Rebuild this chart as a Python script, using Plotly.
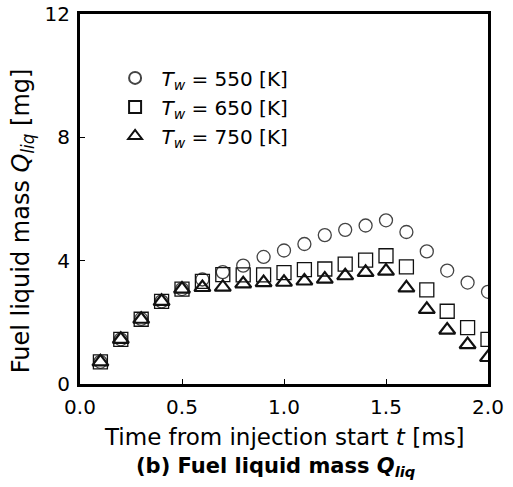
import plotly.graph_objects as go

t = [0.1, 0.2, 0.3, 0.4, 0.5, 0.6, 0.7, 0.8, 0.9, 1.0,
     1.1, 1.2, 1.3, 1.4, 1.5, 1.6, 1.7, 1.8, 1.9, 2.0]
q550 = [0.72, 1.45, 2.11, 2.68, 3.08, 3.39, 3.63, 3.84, 4.12, 4.33,
        4.54, 4.83, 5.00, 5.14, 5.31, 4.93, 4.30, 3.68, 3.29, 2.99]
q650 = [0.72, 1.45, 2.10, 2.68, 3.08, 3.33, 3.55, 3.54, 3.54, 3.61,
        3.71, 3.73, 3.89, 4.02, 4.16, 3.80, 3.05, 2.36, 1.83, 1.45]
q750 = [0.72, 1.45, 2.10, 2.68, 3.08, 3.13, 3.14, 3.25, 3.29, 3.30,
        3.34, 3.40, 3.51, 3.62, 3.66, 3.12, 2.42, 1.75, 1.28, 0.86]
labels = ["\u00a0<i>T</i><sub><i>w</i></sub> = 550 [K]",
          "\u00a0<i>T</i><sub><i>w</i></sub> = 650 [K]",
          "\u00a0<i>T</i><sub><i>w</i></sub> = 750 [K]"]
x_ticks = [0, 0.5, 1.0, 1.5, 2.0]
x_ticktext = ["0.0", "0.5", "1.0", "1.5", "2.0"]
y_ticks = [0, 4, 8, 12]

FONT = "DejaVu Sans, Liberation Sans, Arial, sans-serif"

fig = go.Figure()
fig.add_trace(go.Scatter(x=t, y=q550, mode="markers", name=labels[0],
                         marker=dict(symbol="circle-open", size=13, color="#444",
                                     line=dict(width=1.3, color="#444"))))
fig.add_trace(go.Scatter(x=t, y=q650, mode="markers", name=labels[1],
                         marker=dict(symbol="square-open", size=14, color="#111",
                                     line=dict(width=1.3, color="#111"))))
fig.add_trace(go.Scatter(x=t, y=q750, mode="markers", name=labels[2],
                         marker=dict(symbol="triangle-up-open", size=14, color="#111",
                                     line=dict(width=2.2, color="#111"))))

fig.update_layout(
    width=513, height=487,
    margin=dict(l=80, r=25, t=14, b=103),
    paper_bgcolor="white", plot_bgcolor="white",
    font=dict(family=FONT, size=19, color="black"),
    showlegend=True,
    legend=dict(x=0.086, y=0.88, xanchor="left", yanchor="top",
                bgcolor="rgba(0,0,0,0)", font=dict(size=20),
                itemsizing="constant", itemwidth=30, tracegroupgap=0),
    xaxis=dict(range=[0, 2.0], tickvals=x_ticks, ticktext=x_ticktext,
               ticks="inside", ticklen=5, tickwidth=1.2, tickcolor="black",
               showline=True, linewidth=3, linecolor="black", mirror=True,
               showgrid=False, zeroline=False, tickfont=dict(size=20),
               ticklabelstandoff=3, automargin=False),
    yaxis=dict(range=[0, 12], tickvals=y_ticks,
               ticks="inside", ticklen=5, tickwidth=1.2, tickcolor="black",
               showline=True, linewidth=3, linecolor="black", mirror=True,
               showgrid=False, zeroline=False, tickfont=dict(size=20),
               ticklabelstandoff=3, automargin=False),
)

fig.add_annotation(text="Time from injection start <i>t</i> [ms]",
                   xref="paper", yref="paper", x=0.5, y=-0.142,
                   xanchor="center", yanchor="middle", showarrow=False,
                   font=dict(size=23))
fig.add_annotation(text="<b>(b) Fuel liquid mass <i>Q</i><sub><i>liq</i></sub></b>",
                   xref="paper", yref="paper", x=0.48, y=-0.224,
                   xanchor="center", yanchor="middle", showarrow=False,
                   font=dict(size=21))
fig.add_annotation(text="Fuel liquid mass <i>Q</i><sub><i>liq</i></sub> [mg]",
                   xref="paper", yref="paper", x=-0.142, y=0.44,
                   xanchor="center", yanchor="middle", showarrow=False,
                   textangle=-90, font=dict(size=24))

fig.write_html("out.html")
